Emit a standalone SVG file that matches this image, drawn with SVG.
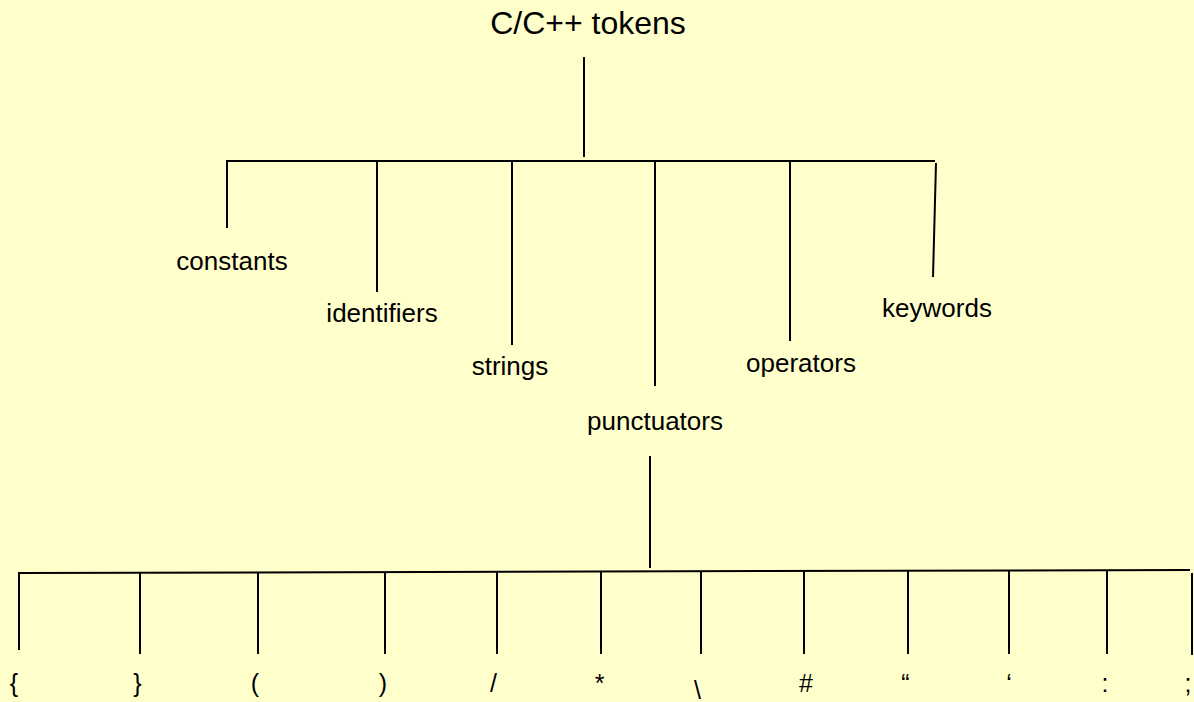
<svg xmlns="http://www.w3.org/2000/svg" width="1194" height="702" viewBox="0 0 1194 702">
<style>
.bg{fill:#FFFFCC}
.ln{stroke:#000;stroke-width:2;fill:none}
.t{font-family:"Liberation Sans",Arial,sans-serif;fill:#000;text-anchor:middle}
.title{font-size:32px}
.lab{font-size:26px}
.sym{font-size:25px}
</style>
<rect class="bg" x="0" y="0" width="1194" height="702"/>
<g id="connectors">
<line class="ln" x1="584" y1="57" x2="584" y2="157"/>
<line class="ln" x1="226" y1="161" x2="935" y2="161"/>
<line class="ln" x1="227" y1="161" x2="227" y2="228"/>
<line class="ln" x1="377" y1="161" x2="377" y2="292"/>
<line class="ln" x1="512" y1="161" x2="512" y2="345"/>
<line class="ln" x1="655" y1="161" x2="655" y2="386"/>
<line class="ln" x1="790" y1="161" x2="790" y2="341"/>
<line class="ln" x1="936" y1="163" x2="933" y2="277"/>
<line class="ln" x1="650" y1="456" x2="650" y2="568"/>
<line class="ln" x1="19" y1="573" x2="1190" y2="570"/>
<line class="ln" x1="19" y1="572" x2="19" y2="650"/>
<line class="ln" x1="140" y1="573" x2="140" y2="654"/>
<line class="ln" x1="258" y1="573" x2="258" y2="654"/>
<line class="ln" x1="385" y1="572" x2="385" y2="654"/>
<line class="ln" x1="497" y1="572" x2="497" y2="654"/>
<line class="ln" x1="601" y1="572" x2="601" y2="654"/>
<line class="ln" x1="701" y1="572" x2="701" y2="654"/>
<line class="ln" x1="804" y1="571" x2="804" y2="654"/>
<line class="ln" x1="908" y1="571" x2="908" y2="654"/>
<line class="ln" x1="1009" y1="571" x2="1009" y2="654"/>
<line class="ln" x1="1107" y1="571" x2="1107" y2="654"/>
<line class="ln" x1="1192" y1="573" x2="1192" y2="655"/>
</g>
<g id="root"><text class="t title" x="588" y="34">C/C++ tokens</text></g>
<g id="constants"><text class="t lab" x="232" y="270">constants</text></g>
<g id="identifiers"><text class="t lab" x="382" y="322">identifiers</text></g>
<g id="strings"><text class="t lab" x="510" y="375">strings</text></g>
<g id="punctuators"><text class="t lab" x="655" y="430">punctuators</text></g>
<g id="operators"><text class="t lab" x="801" y="372">operators</text></g>
<g id="keywords"><text class="t lab" x="937" y="317">keywords</text></g>
<g id="sym-lbrace"><text class="t sym" x="14" y="692">{</text></g>
<g id="sym-rbrace"><text class="t sym" x="137.5" y="692">}</text></g>
<g id="sym-lparen"><text class="t sym" x="255" y="692">(</text></g>
<g id="sym-rparen"><text class="t sym" x="383" y="692">)</text></g>
<g id="sym-slash"><text class="t sym" x="493.5" y="692">/</text></g>
<g id="sym-star"><text class="t sym" x="599.5" y="692">*</text></g>
<g id="sym-backslash"><text class="t sym" x="697.5" y="699">\</text></g>
<g id="sym-hash"><text class="t sym" x="806" y="692">#</text></g>
<g id="sym-dquote"><text class="t sym" x="905.5" y="692">“</text></g>
<g id="sym-squote"><text class="t sym" x="1009" y="692">‘</text></g>
<g id="sym-colon"><text class="t sym" x="1105" y="692">:</text></g>
<g id="sym-semicolon"><text class="t sym" x="1188" y="692">;</text></g>
</svg>
